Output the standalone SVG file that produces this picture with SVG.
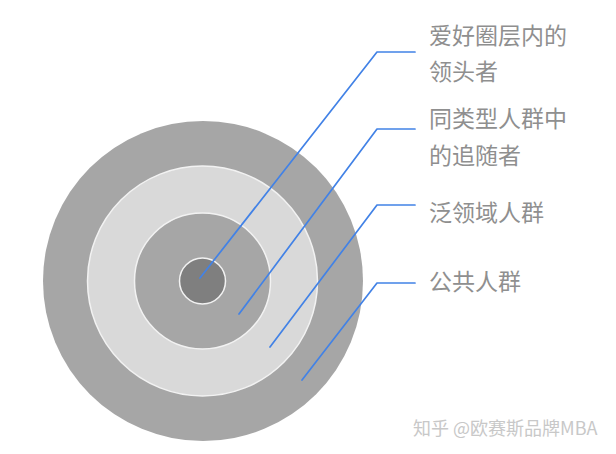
<svg xmlns="http://www.w3.org/2000/svg" width="616" height="454" viewBox="0 0 616 454">
<style>
.ring{stroke:#f2f2f2;stroke-width:1.5}
.lbl{font-family:"Noto Sans CJK SC","Noto Sans",sans-serif;font-size:23px;fill:#8f8f8f}
.conn{fill:none;stroke:#4282e6;stroke-width:1.7;stroke-linejoin:round;stroke-linecap:round}
.wm{font-family:"Noto Sans CJK SC","Noto Sans",sans-serif;font-size:18px;fill:#c8c8c8}
</style>
<rect width="616" height="454" fill="#ffffff"/>
<g id="ring-public"><circle cx="203" cy="281" r="160" fill="#a6a6a6"/></g>
<g id="ring-domain"><circle class="ring" cx="202.5" cy="281" r="115" fill="#d9d9d9"/></g>
<g id="ring-followers"><circle class="ring" cx="202.5" cy="281" r="68" fill="#a6a6a6"/></g>
<g id="ring-leaders"><circle class="ring" cx="202.5" cy="281" r="23" fill="#7f7f7f"/></g>
<g id="connectors">
<polyline class="conn" points="200,278 377,52 415,52"/>
<polyline class="conn" points="239,314 377,129 415,129"/>
<polyline class="conn" points="270,347 377,205 415,205"/>
<polyline class="conn" points="302,380 377,283 415,283"/>
</g>
<g id="label-leaders">
<text class="lbl" x="429" y="44">爱好圈层内的</text>
<text class="lbl" x="429" y="80">领头者</text>
</g>
<g id="label-followers">
<text class="lbl" x="429" y="127">同类型人群中</text>
<text class="lbl" x="429" y="164">的追随者</text>
</g>
<g id="label-domain"><text class="lbl" x="429" y="221">泛领域人群</text></g>
<g id="label-public"><text class="lbl" x="429" y="290">公共人群</text></g>
<g id="watermark"><text class="wm" x="413" y="435">知乎 @欧赛斯品牌MBA</text></g>
</svg>
